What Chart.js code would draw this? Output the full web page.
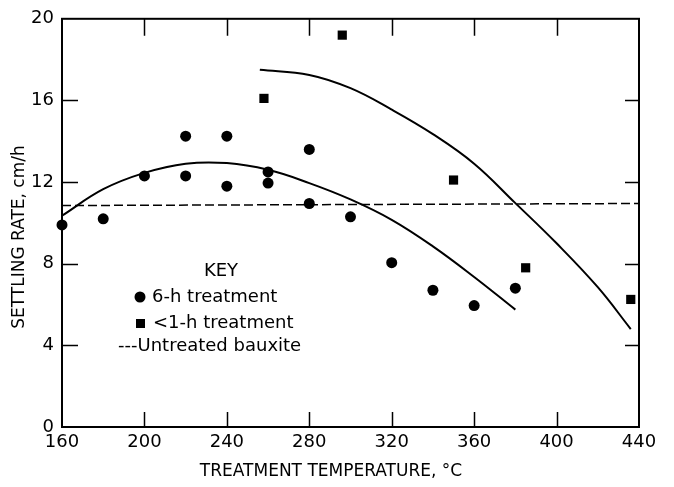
<!DOCTYPE html>
<html>
<head>
<meta charset="utf-8">
<script src="https://cdn.jsdelivr.net/npm/chart.js@4.4.1/dist/chart.umd.min.js"></script>
<style>
    body { margin: 0; background: #fff; }
    #wrap { width: 674px; height: 487px; }
</style>
</head>
<body>
<div id="wrap"><canvas id="settlingChart" width="674" height="487"></canvas></div>
<script>
// Settling rate vs treatment temperature

const xTicks = [160, 200, 240, 280, 320, 360, 400, 440];
const yTicks = [0, 4, 8, 12, 16, 20];

// 6-h treatment (circles)
const sixHourTemps = [160, 180, 200, 220, 220, 240, 240, 260, 260, 280, 280, 300, 320, 340, 360, 380];
const sixHourRates = [9.9, 10.2, 12.3, 14.25, 12.3, 14.25, 11.8, 12.5, 11.95, 13.6, 10.95, 10.3, 8.05, 6.7, 5.95, 6.8];

// <1-h treatment (squares)
const shortTemps = [258, 296, 350, 385, 436];
const shortRates = [16.1, 19.2, 12.1, 7.8, 6.25];

// fitted curves
const fitSixTemps = [160, 180, 200, 220, 240, 260, 280, 300, 320, 340, 360, 380];
const fitSixRates = [10.35, 11.65, 12.45, 12.9, 12.93, 12.6, 11.95, 11.15, 10.15, 8.85, 7.35, 5.75];
const fitShortTemps = [256, 280, 300, 320, 340, 360, 380, 400, 420, 436];
const fitShortRates = [17.5, 17.25, 16.6, 15.55, 14.35, 12.9, 10.97, 9.0, 6.85, 4.8];

// untreated bauxite (dashed)
const untreatedTemps = [160, 440];
const untreatedRates = [10.85, 10.95];

const FONT = '"DejaVu Sans", sans-serif';

function toPoints(xs, ys) {
    return xs.map((x, i) => ({ x: x, y: ys[i] }));
}

// frame, inward ticks, axis titles and key
const decorations = {
    id: 'decorations',
    afterDraw(chart) {
        const ctx = chart.ctx;
        const area = chart.chartArea;
        const xs = chart.scales.x;
        const ys = chart.scales.y;
        ctx.save();
        ctx.strokeStyle = '#000';
        ctx.lineWidth = 2;
        ctx.strokeRect(area.left, area.top, area.right - area.left, area.bottom - area.top);

        ctx.lineWidth = 1.5;
        ctx.beginPath();
        xTicks.slice(1, -1).forEach(v => {
            const px = Math.round(xs.getPixelForValue(v)) + 0.5;
            ctx.moveTo(px, area.bottom);
            ctx.lineTo(px, area.bottom - 15);
            ctx.moveTo(px, area.top);
            ctx.lineTo(px, area.top + 17);
        });
        yTicks.slice(1, -1).forEach(v => {
            const py = Math.round(ys.getPixelForValue(v)) + 0.5;
            ctx.moveTo(area.left, py);
            ctx.lineTo(area.left + 16, py);
            ctx.moveTo(area.right, py);
            ctx.lineTo(area.right - 14, py);
        });
        ctx.stroke();

        ctx.fillStyle = '#000';
        ctx.textBaseline = 'middle';

        // x title
        ctx.font = '17px ' + FONT;
        ctx.textAlign = 'center';
        ctx.fillText('TREATMENT TEMPERATURE, °C', 331, 472);

        // y title
        ctx.save();
        ctx.translate(20, 237);
        ctx.rotate(-Math.PI / 2);
        ctx.fillText('SETTLING RATE, cm/h', 0, 0);
        ctx.restore();

        // key
        ctx.font = '18px ' + FONT;
        ctx.fillText('KEY', 221, 271);
        ctx.textAlign = 'left';
        ctx.beginPath();
        ctx.arc(140, 297, 5.5, 0, Math.PI * 2);
        ctx.fill();
        ctx.fillText('6-h treatment', 152, 297);
        ctx.fillRect(136, 319, 9, 9);
        ctx.fillText('<1-h treatment', 153, 323);
        ctx.fillText('---Untreated bauxite', 118, 346);
        ctx.restore();
    }
};

new Chart(document.getElementById('settlingChart'), {
    type: 'scatter',
    data: {
        datasets: [
            {
                label: '6-h treatment',
                data: toPoints(sixHourTemps, sixHourRates),
                pointStyle: 'circle',
                pointRadius: 5.5,
                backgroundColor: '#000',
                borderColor: '#000',
                borderWidth: 0,
                clip: false
            },
            {
                label: '<1-h treatment',
                data: toPoints(shortTemps, shortRates),
                pointStyle: 'rect',
                pointRadius: 6.5,
                backgroundColor: '#000',
                borderColor: '#000',
                borderWidth: 0,
                clip: false
            },
            {
                label: '6-h fit',
                type: 'line',
                data: toPoints(fitSixTemps, fitSixRates),
                borderColor: '#000',
                borderWidth: 2,
                pointRadius: 0,
                tension: 0.4,
                fill: false
            },
            {
                label: '<1-h fit',
                type: 'line',
                data: toPoints(fitShortTemps, fitShortRates),
                borderColor: '#000',
                borderWidth: 2,
                pointRadius: 0,
                tension: 0.4,
                fill: false
            },
            {
                label: 'Untreated bauxite',
                type: 'line',
                data: toPoints(untreatedTemps, untreatedRates),
                borderColor: '#000',
                borderWidth: 1.5,
                borderDash: [9, 4],
                pointRadius: 0,
                fill: false
            }
        ]
    },
    options: {
        responsive: false,
        animation: false,
        devicePixelRatio: 1,
        layout: {
            padding: { top: 14, right: 35, left: 0, bottom: 0 }
        },
        plugins: {
            legend: { display: false },
            tooltip: { enabled: false }
        },
        scales: {
            x: {
                type: 'linear',
                min: 160,
                max: 440,
                afterFit: scale => { scale.height = 60; },
                afterBuildTicks: scale => { scale.ticks = xTicks.map(v => ({ value: v })); },
                grid: { display: false, drawTicks: false },
                border: { display: false },
                ticks: {
                    color: '#000',
                    padding: 5,
                    maxRotation: 0,
                    font: { family: FONT, size: 18 }
                }
            },
            y: {
                type: 'linear',
                min: 0,
                max: 20,
                afterFit: scale => { scale.width = 62; },
                afterBuildTicks: scale => { scale.ticks = yTicks.map(v => ({ value: v })); },
                grid: { display: false, drawTicks: false },
                border: { display: false },
                ticks: {
                    color: '#000',
                    padding: 8,
                    font: { family: FONT, size: 18 }
                }
            }
        }
    },
    plugins: [decorations]
});
</script>
</body>
</html>
